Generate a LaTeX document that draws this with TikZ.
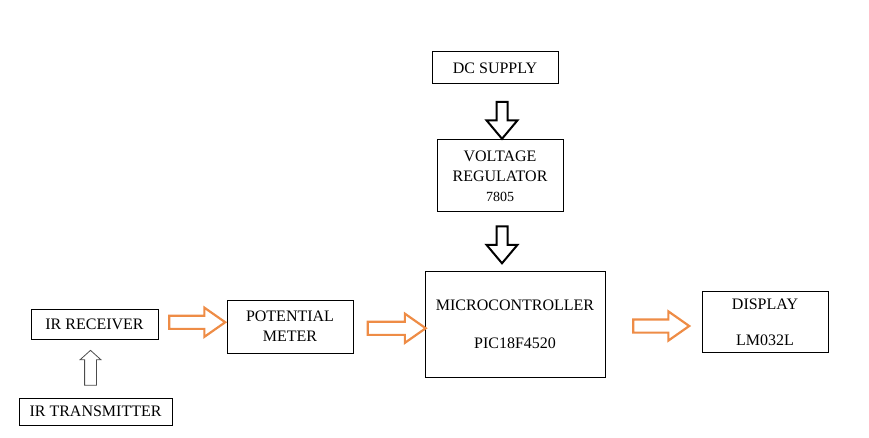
\documentclass[tikz,border=0pt]{standalone}
\usepackage{fontspec}
\setmainfont{Liberation Serif}
\usetikzlibrary{shapes.arrows,calc}
\definecolor{arroworange}{RGB}{238,140,70}

\begin{document}
\begin{tikzpicture}[x=1pt,y=-1pt,
    block/.style={draw,line width=1pt,inner sep=0pt,align=center,
        font=\rmfamily\fontsize{16}{20}\selectfont},
    flow/.style={single arrow,draw=arroworange,line width=2.2pt,inner sep=5.5pt,
        minimum height=56pt,single arrow head extend=8pt,single arrow tip angle=70},
    power/.style={single arrow,draw,line width=2pt,inner sep=4.5pt,
        minimum height=37pt,single arrow head extend=10pt,single arrow tip angle=80,
        shape border rotate=270},
    signal/.style={single arrow,draw=black!70,line width=0.8pt,inner sep=5.5pt,
        minimum height=35pt,single arrow head extend=4.5pt,single arrow tip angle=96,
        shape border rotate=90}]
    \useasboundingbox (0,0) rectangle (869,438);
    \node[block,minimum width=126pt,minimum height=32pt] (dc) at (495,68) {DC SUPPLY};
    \node[block,minimum width=126pt,minimum height=72pt] (vreg) at (500,176)
        {VOLTAGE\\REGULATOR\\{\fontsize{14}{20}\selectfont 7805}};
    \node[block,minimum width=180pt,minimum height=106pt] (mcu) at (515,324)
        {MICROCONTROLLER\\[18pt]PIC18F4520};
    \node[block,minimum width=126pt,minimum height=61pt] (disp) at (765,322)
        {DISPLAY\\[16pt]LM032L};
    \node[block,minimum width=127pt,minimum height=30pt] (irrx) at (94.5,324) {IR RECEIVER};
    \node[block,minimum width=126pt,minimum height=53pt] (pot) at (290,326.5)
        {POTENTIAL\\METER};
    \node[block,minimum width=153pt,minimum height=27pt] (irtx) at (95.5,411.5) {IR TRANSMITTER};
    \node[power] (a1) at ($(vreg.north)!0.5!(vreg.north |- dc.south)+(2,5)$) {};
    \node[power] (a2) at ($(vreg.south)!0.5!(vreg.south |- mcu.north)+(2,0)$) {};
    \node[flow] (a3) at ($(irrx.east)!0.5!(pot.west)+(0,-3)$) {};
    \node[flow,minimum height=58pt] (a4) at ($(pot.east)!0.5!(mcu.west)+(3,3)$) {};
    \node[flow] (a5) at ($(mcu.east)!0.5!(disp.west)+(3,3)$) {};
    \node[signal] (a6) at ($(irtx.north)!0.5!(irtx.north |- irrx.south)+(-5,2)$) {};
\end{tikzpicture}
\end{document}
